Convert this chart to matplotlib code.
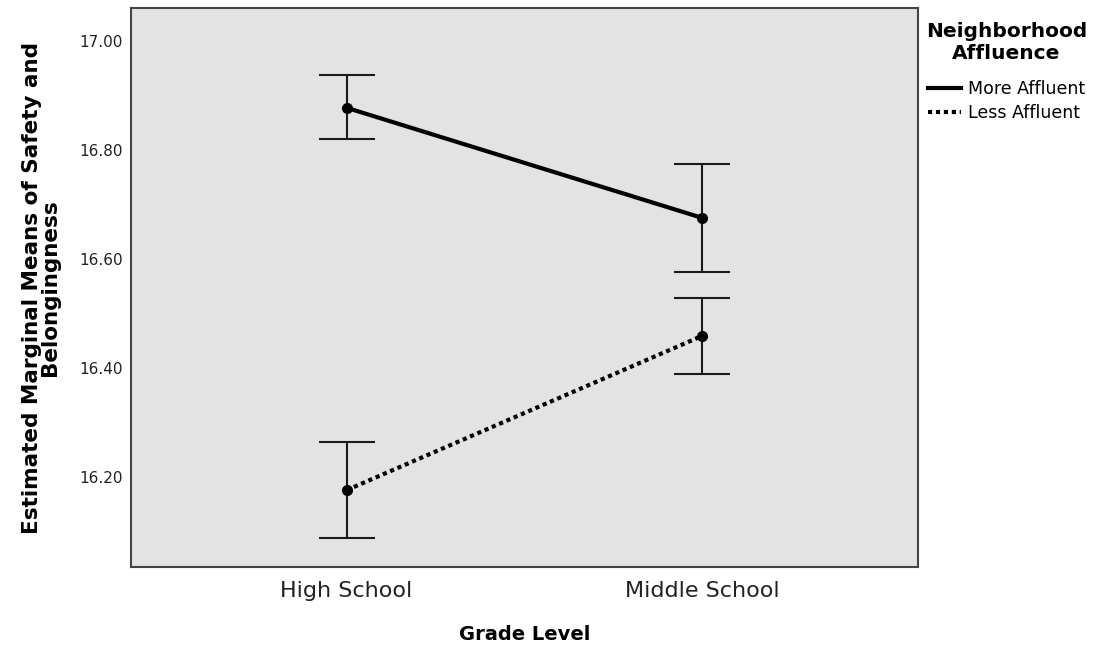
import numpy as np
import matplotlib.pyplot as plt
from matplotlib.lines import Line2D

# data
grades = ['High School', 'Middle School']
more_mean = [16.877, 16.675]
more_lo = [16.820, 16.576]
more_hi = [16.938, 16.774]
less_mean = [16.176, 16.459]
less_lo = [16.088, 16.389]
less_hi = [16.264, 16.528]
yticks = [16.2, 16.4, 16.6, 16.8, 17.0]

fig = plt.figure(figsize=(10.98, 6.45), dpi=100)
ax = fig.add_axes([0.1193, 0.1209, 0.7168, 0.8667])
ax.set_facecolor('#e3e3e3')

x = np.arange(len(grades))

# error bars
for mean, lo, hi in [(more_mean, more_lo, more_hi), (less_mean, less_lo, less_hi)]:
    m = np.array(mean)
    err = [m - np.array(lo), np.array(hi) - m]
    ax.errorbar(x, m, yerr=err, fmt='none', ecolor='#1a1a1a', elinewidth=1.5,
                capsize=20, capthick=1.5, zorder=2)

# lines
ax.plot(x, more_mean, color='black', lw=3, solid_capstyle='butt', zorder=3)
ax.plot(x, less_mean, color='black', lw=3, linestyle=(0, (1, 0.9)), zorder=3)
ax.plot(x, more_mean, 'o', color='black', ms=7, zorder=4)
ax.plot(x, less_mean, 'o', color='black', ms=7, zorder=4)

ax.set_xlim(-0.606, 1.606)
ax.set_ylim(16.035, 17.060)
ax.set_xticks(x)
ax.set_xticklabels(grades, fontsize=16, color='#222222')
ax.set_yticks(yticks)
ax.set_yticklabels(['%.2f' % t for t in yticks], fontsize=11, color='#222222')
ax.tick_params(length=0, pad=6)
ax.tick_params(axis='x', pad=10)

for s in ax.spines.values():
    s.set_color('#444444')
    s.set_linewidth(1.5)

ax.set_xlabel('Grade Level', fontsize=14, fontweight='bold', labelpad=17)
ax.set_ylabel('Estimated Marginal Means of Safety and\nBelongingness', fontsize=15.5,
              fontweight='bold', linespacing=0.85, labelpad=14)

# legend
handles = [Line2D([], [], color='black', lw=3),
           Line2D([], [], color='black', lw=3, linestyle=(0, (1, 0.9)))]
leg = fig.legend(handles, ['More Affluent', 'Less Affluent'], loc='upper left',
                 bbox_to_anchor=(0.829, 0.99), frameon=False, fontsize=12.5,
                 handlelength=1.9, handletextpad=0.4, labelspacing=0.35,
                 title='Neighborhood\nAffluence',
                 title_fontproperties={'weight': 'bold', 'size': 14.5})
leg.get_title().set_multialignment('center')
leg._legend_box.sep = 12

plt.savefig('out.png', dpi=100)
